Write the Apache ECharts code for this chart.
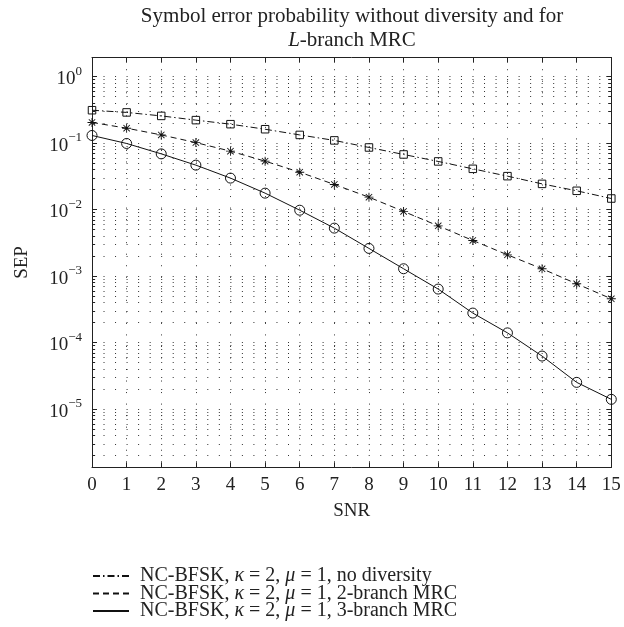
<!DOCTYPE html>
<html>
<head>
<meta charset="utf-8">
<script src="https://cdn.jsdelivr.net/npm/echarts@6/dist/echarts.min.js"></script>
<style>html,body{margin:0;padding:0;background:#fff}#c{width:624px;height:627px}</style>
</head>
<body>
<div id="c"></div>
<script>
var snr = [0,1,2,3,4,5,6,7,8,9,10,11,12,13,14,15];
var sepNoDiv = [0.313,0.290,0.257,0.222,0.193,0.162,0.133,0.110,0.0861,0.0676,0.0531,0.0411,0.0319,0.0244,0.0192,0.0147];
var sepMrc2 = [0.205,0.168,0.133,0.102,0.0758,0.0536,0.0366,0.0239,0.0154,0.0094,0.0057,0.00344,0.00209,0.00129,0.000766,0.000456];
var sepMrc3 = [0.1305,0.0989,0.069,0.0467,0.0298,0.0177,0.0098,0.00527,0.00261,0.00129,0.000638,0.000278,0.000140,0.0000627,0.0000252,0.0000140];
var seriesNames = [
  'NC-BFSK, κ = 2, μ = 1, no diversity',
  'NC-BFSK, κ = 2, μ = 1, 2-branch MRC',
  'NC-BFSK, κ = 2, μ = 1, 3-branch MRC'
];
var minorMantissas = [2,3,4,5,6,7,8,9];
var yMin = 1.33e-6, yMax = 1.93;
var xMin = 0, xMax = 15;

var FONT = "'Liberation Serif', 'DejaVu Serif', serif";
function pairs(xs, ys){ return xs.map(function(x,i){ return [x, ys[i]]; }); }

// minor grid lines & ticks at 2..9 x 10^n (placed on a hidden log10-space helper axis)
var minorLines = [], minorTicks = [];
for (var e = -6; e <= 0; e++) {
  minorMantissas.forEach(function(m){
    var v = m * Math.pow(10, e);
    if (v > yMin && v < yMax) {
      var lv = Math.log10(v);
      minorLines.push({yAxis: lv});
      minorTicks.push([{coord:[xMin, lv]}, {coord:[xMin + 0.09, lv]}]);
      minorTicks.push([{coord:[xMax, lv]}, {coord:[xMax - 0.09, lv]}]);
    }
  });
}
var dotStyle = {color:'#333', width:1, type:[1, 10.53]};
var starPath = 'path://M0,4.5L10,4.5L10,5.5L0,5.5Z M4.5,0L5.5,0L5.5,10L4.5,10Z M1.1,1.8L1.8,1.1L8.9,8.2L8.2,8.9Z M8.2,1.1L8.9,1.8L1.8,8.9L1.1,8.2Z';

function yLabel(v){
  var ex = Math.round(Math.log10(v));
  if (Math.abs(v - Math.pow(10, ex)) / Math.pow(10, ex) > 1e-6) return '';
  return '{b|10}{s|' + (ex < 0 ? '\u2212' + (-ex) : ex) + '}';
}
function legendFmt(name){
  return '{g|}{r|' + name.replace(/κ/g, '}{i|κ}{r|').replace(/μ/g, '}{i|μ}{r|') + '}';
}

var chart = echarts.init(document.getElementById('c'), null, {renderer:'canvas'});
var axisLine = {show:true, onZero:false, lineStyle:{color:'#222', width:1}};
var LEG = 20;
var TT = 21;
chart.setOption({
  animation: false,
  backgroundColor: '#fff',
  title: {
    text: '{n|Symbol error probability without diversity and for}\n{i|L}{n|-branch MRC}',
    left: 352, top: 4, textAlign: 'center', padding: 0,
    textStyle: {
      fontFamily: FONT, fontSize: TT, fontWeight: 'normal', color:'#222', lineHeight: 24,
      rich: {
        n: {fontFamily: FONT, fontSize: TT, color:'#222', lineHeight: 24},
        i: {fontFamily: FONT, fontSize: TT, fontStyle:'italic', color:'#222', lineHeight: 24}
      }
    }
  },
  legend: {
    data: seriesNames,
    orient: 'vertical', left: 92, top: 566, padding: 0, height: 60,
    itemWidth: 36, itemHeight: 12, itemGap: -2.5,
    itemStyle: {color:'transparent', borderColor:'transparent', borderWidth:0},
    formatter: legendFmt,
    textStyle: {
      fontFamily: FONT, fontSize: LEG, color:'#222', lineHeight: 17.5,
      rich: {
        g: {width: 6, lineHeight: 17.5},
        r: {fontFamily: FONT, fontSize: LEG, color:'#222', lineHeight: 17.5},
        i: {fontFamily: FONT, fontSize: LEG, fontStyle:'italic', color:'#222', lineHeight: 17.5}
      }
    }
  },
  grid: {left: 92, right: 12.7, top: 57.7, bottom: 159.7, containLabel: false},
  xAxis: [{
    type: 'value', min: xMin, max: xMax, interval: 1,
    name: 'SNR', nameLocation: 'middle', nameGap: 34,
    nameTextStyle: {fontFamily: FONT, fontSize: 19, color:'#222'},
    axisLine: axisLine,
    axisTick: {inside: true, length: 5, lineStyle:{color:'#222'}},
    axisLabel: {fontFamily: FONT, fontSize: 19, color:'#222', margin: 8},
    splitLine: {show: true, lineStyle: dotStyle}
  }, {
    type: 'value', min: xMin, max: xMax, interval: 1, position: 'top',
    axisLine: axisLine,
    axisTick: {inside: true, length: 5, lineStyle:{color:'#222'}},
    axisLabel: {show: false}, splitLine: {show: false}
  }],
  yAxis: [{
    type: 'log', logBase: 10, min: yMin, max: yMax, splitNumber: 6,
    name: 'SEP', nameLocation: 'middle', nameGap: 60,
    nameTextStyle: {fontFamily: FONT, fontSize: 19, color:'#222'},
    axisLine: axisLine,
    axisTick: {inside: true, length: 5, lineStyle:{color:'#222'}},
    axisLabel: {
      formatter: yLabel, margin: 10,
      rich: {
        b: {fontFamily: FONT, fontSize: 19, color:'#222', lineHeight: 24, verticalAlign:'bottom'},
        s: {fontFamily: FONT, fontSize: 13, color:'#222', verticalAlign:'top'}
      }
    },
    splitLine: {show: true, lineStyle: dotStyle}
  }, {
    type: 'log', logBase: 10, min: yMin, max: yMax, splitNumber: 6, position: 'right',
    axisLine: axisLine,
    axisTick: {inside: true, length: 5, lineStyle:{color:'#222'}},
    axisLabel: {show: false}, splitLine: {show: false}
  }, {
    type: 'value', min: Math.log10(yMin), max: Math.log10(yMax), show: false,
    axisLine: {show: false, onZero: false},
    splitLine: {show: false}
  }],
  series: [{
    name: 'grid-minor', type: 'line', data: [], yAxisIndex: 2, z: 1, silent: true,
    markLine: {
      silent: true, symbol: 'none', label: {show: false}, animation: false, precision: 6,
      lineStyle: dotStyle,
      data: minorLines
    }
  }, {
    name: 'ticks-minor', type: 'line', data: [], yAxisIndex: 2, z: 1, silent: true,
    markLine: {
      silent: true, symbol: 'none', label: {show: false}, animation: false, precision: 6,
      lineStyle: {color:'#222', width:1, type:'solid'},
      data: minorTicks
    }
  }, {
    name: seriesNames[0], type: 'line', data: pairs(snr, sepNoDiv), z: 3,
    symbol: 'rect', symbolSize: 7.5,
    lineStyle: {color:'#111', width:1, type:[7,3,1.5,3]},
    itemStyle: {color:'transparent', borderColor:'#111', borderWidth:1}
  }, {
    name: seriesNames[1], type: 'line', data: pairs(snr, sepMrc2), z: 3,
    symbol: starPath, symbolSize: 9,
    lineStyle: {color:'#111', width:1, type:[6,4]},
    itemStyle: {color:'#111', borderWidth:0}
  }, {
    name: seriesNames[2], type: 'line', data: pairs(snr, sepMrc3), z: 3,
    symbol: 'circle', symbolSize: 10,
    lineStyle: {color:'#111', width:1, type:'solid'},
    itemStyle: {color:'transparent', borderColor:'#111', borderWidth:1}
  }]
});
</script>
</body>
</html>
